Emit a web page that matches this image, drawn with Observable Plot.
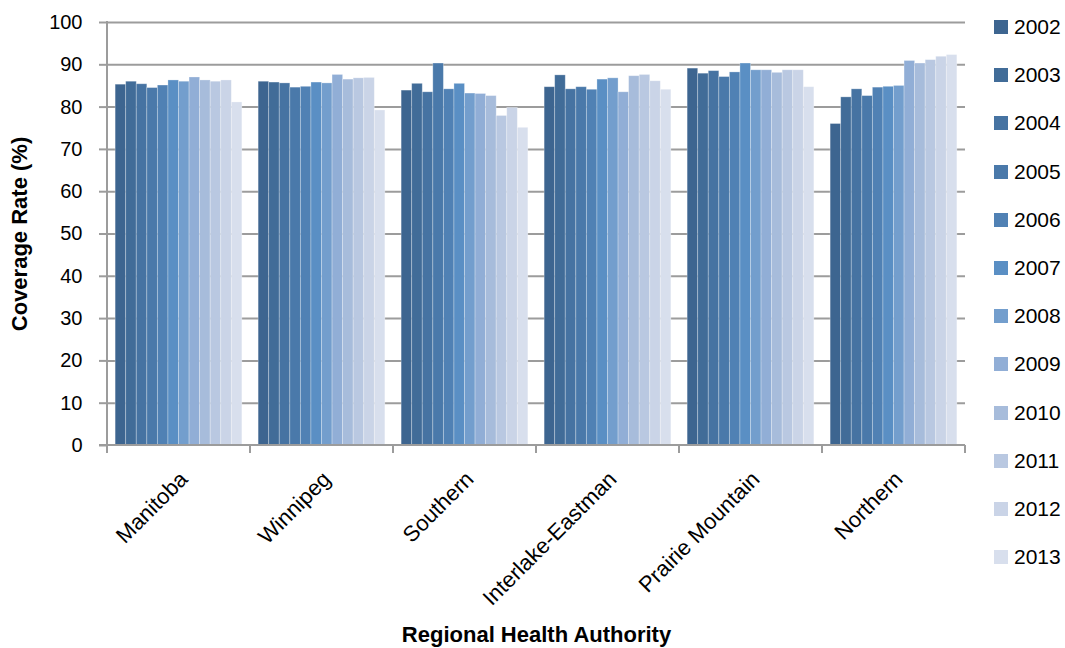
<!DOCTYPE html>
<html>
<head>
<meta charset="utf-8">
<script src="https://cdn.jsdelivr.net/npm/d3@7"></script>
<script src="https://cdn.jsdelivr.net/npm/@observablehq/plot@0.6"></script>
<style>
  html, body { margin: 0; padding: 0; background: #fff; }
  #wrap { position: relative; width: 1065px; height: 648px; }
  #chart svg { display: block; }
  #chart g[aria-label$="axis label"] text {
    font-family: "Liberation Sans", Arial, sans-serif;
    font-weight: bold;
    font-size: 22px;
  }
  #legend {
    position: absolute; left: 994px; top: 3px;
    font-family: "Liberation Sans", Arial, sans-serif;
    font-size: 21px; color: #000;
  }
  #legend .item { display: flex; align-items: center; height: 48.2px; }
  #legend .sw { width: 14px; height: 14px; margin-right: 6px; flex: none; }
</style>
</head>
<body>
<div id="wrap">
  <div id="chart"></div>
  <div id="legend"></div>
</div>
<script>
// Immunization coverage rate (%) by Regional Health Authority, 2002–2013
const regions = ["Manitoba", "Winnipeg", "Southern", "Interlake-Eastman", "Prairie Mountain", "Northern"];
const years = ["2002", "2003", "2004", "2005", "2006", "2007", "2008", "2009", "2010", "2011", "2012", "2013"];

const manitoba         = [85.3, 86.0, 85.4, 84.5, 85.1, 86.3, 86.0, 87.0, 86.3, 86.0, 86.3, 81.1];
const winnipeg         = [86.0, 85.8, 85.6, 84.6, 84.8, 85.8, 85.6, 87.6, 86.5, 86.8, 86.9, 79.2];
const southern         = [83.9, 85.5, 83.5, 90.3, 84.2, 85.5, 83.2, 83.1, 82.6, 77.9, 79.8, 75.1];
const interlakeEastman = [84.7, 87.5, 84.2, 84.7, 84.1, 86.5, 86.8, 83.5, 87.3, 87.6, 86.1, 84.1];
const prairieMountain  = [89.1, 87.9, 88.5, 87.1, 88.2, 90.3, 88.7, 88.7, 88.1, 88.7, 88.7, 84.7];
const northern         = [76.0, 82.3, 84.2, 82.6, 84.6, 84.8, 85.0, 90.9, 90.3, 91.1, 91.9, 92.3];

const yTicks = [0, 10, 20, 30, 40, 50, 60, 70, 80, 90, 100];

const yearColors = ["#3d6590", "#416c98", "#4673a2", "#4a79aa", "#5081b4", "#5a8fc4",
                    "#739ecd", "#91aed6", "#a7bcdb", "#b9c8e1", "#cad4e7", "#d8dfed"];

const series = [manitoba, winnipeg, southern, interlakeEastman, prairieMountain, northern];
const rows = regions.flatMap((region, i) =>
  years.map((year, j) => ({region, year, rate: series[i][j]})));

const GRID = "#9c9c9c";
const FONT = '"Liberation Sans", Arial, sans-serif';

const chart = Plot.plot({
  width: 1065,
  height: 648,
  marginLeft: 107,
  marginRight: 100,
  marginTop: 22,
  marginBottom: 203,
  style: {fontFamily: FONT, fontSize: "20px", color: "#000", background: "transparent", overflow: "visible"},
  fx: {domain: regions, padding: 0, round: false},
  x: {domain: years, paddingInner: 0, paddingOuter: 0.77, round: false, axis: null},
  y: {domain: [0, 100]},
  color: {domain: years, range: yearColors},
  marks: [
    Plot.gridY(yTicks.filter(d => d > 0), {stroke: GRID, strokeOpacity: 1, strokeWidth: 2}),
    Plot.barY(rows, {
      fx: "region", x: "year", y: "rate", fill: "year",
      stroke: "#ffffff", strokeOpacity: 0.35, strokeWidth: 0.8
    }),
    Plot.axisY(yTicks, {
      tickSize: 8, tickPadding: 17, stroke: GRID, strokeWidth: 2, strokeOpacity: 1,
      fontSize: 20, label: "Coverage Rate (%)", labelArrow: "none",
      labelAnchor: "center", labelOffset: 96
    }),
    Plot.axisFx({
      anchor: "bottom", tickSize: 0, tickRotate: -45, tickPadding: 30, dx: 5, fontSize: 22,
      label: "Regional Health Authority", labelArrow: "none",
      labelAnchor: "center", labelOffset: 196
    })
  ]
});

document.getElementById("chart").append(chart);

// Axis lines and category boundary ticks, placed with the chart's own scales
const fxs = chart.scale("fx");
const ys = chart.scale("y");
const y0 = ys.apply(0);
const yTop = ys.apply(100);
const lastRegion = fxs.domain[fxs.domain.length - 1];
const edges = fxs.domain.map(r => fxs.apply(r)).concat([fxs.apply(lastRegion) + fxs.bandwidth]);
const g = d3.select(chart).append("g").attr("stroke", GRID).attr("stroke-width", 2);
g.append("line").attr("x1", edges[0]).attr("x2", edges[0]).attr("y1", yTop - 1).attr("y2", y0);
g.append("line").attr("x1", edges[0] - 8).attr("x2", edges[edges.length - 1]).attr("y1", y0).attr("y2", y0);
g.selectAll("line.edge").data(edges).join("line").attr("class", "edge")
  .attr("x1", d => d).attr("x2", d => d).attr("y1", y0).attr("y2", y0 + 8);

// Legend of years
const legend = d3.select("#legend");
const items = legend.selectAll("div.item").data(years).join("div").attr("class", "item");
items.append("div").attr("class", "sw").style("background", d => yearColors[years.indexOf(d)]);
items.append("span").text(d => d);
</script>
</body>
</html>
